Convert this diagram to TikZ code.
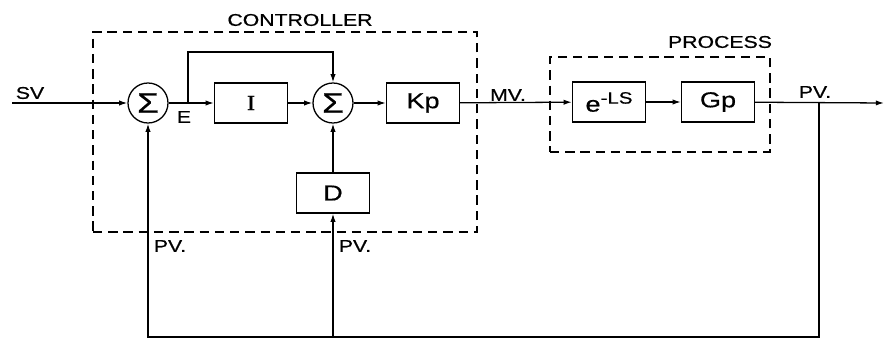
\documentclass[tikz,border=0pt]{standalone}
\usepackage{fontspec}
\setmainfont{Liberation Sans}[FakeStretch=1.25,FakeBold=0.6]
\newfontfamily\barI{Liberation Serif}[FakeStretch=1.15,FakeBold=1.2]
\usepackage{tikz}
\usetikzlibrary{arrows.meta,positioning,calc}

\begin{document}
\begin{tikzpicture}[
  x=0.03cm, y=-0.03cm,
  line width=1.1pt,
  blk/.style={draw, minimum width=2.19cm, minimum height=1.2cm, inner sep=0pt, font=\fontsize{18.5}{18.5}\selectfont},
  summer/.style={draw, circle, minimum size=1.2cm, inner sep=0pt, font=\fontsize{24}{24}\selectfont},
  frame/.style={draw, dash pattern=on 8pt off 5pt, line width=1pt, inner sep=0pt},
  lbl/.style={font=\fontsize{14.5}{14.5}\selectfont, inner sep=0pt},
  arr/.style={-{Latex[length=7pt,width=4.5pt]}}
]
\useasboundingbox (0,0) rectangle (885,340);
% dashed groups
\node[frame, minimum width=11.52cm, minimum height=6cm] (ctrl) at (285,132) {};
\node[frame, minimum width=6.6cm, minimum height=2.85cm] (proc) at (660,104.5) {};
\node[lbl] (ctrltitle) at (300,20) {CONTROLLER};
\node[lbl] (proctitle) at (720,42) {PROCESS};
% controller
\node[summer] (sum1) at (148,103) {Σ};
\node[blk] (I) at (251,103) {\barI I};
\node[summer] (sum2) at (333,103) {Σ};
\node[blk] (Kp) at (423,103) {Kp};
\node[blk] (D) at (333,193) {D};
% process
\node[blk] (els) at (609,102) {e\raisebox{0.7ex}{\fontsize{14}{14}\selectfont -LS}};
\node[blk] (Gp) at (718,102) {Gp};
% signal labels
\node[lbl] (sv) at (30,93) {SV};
\node[lbl] (err) at (184,117) {E};
\node[lbl] (mv) at (508,95) {MV.};
\node[lbl] (pvout) at (815,92) {PV.};
\node[lbl] (pvleft) at (170,246) {PV.};
\node[lbl] (pvright) at (355,246) {PV.};
% junctions
\coordinate (in) at (12,103);
\coordinate (out) at (884,103);
\coordinate (br1) at (188,103);
\coordinate (top) at (188,52);
\coordinate (br2) at (819,103);
\coordinate (bot) at (819,337);
% connectors
\draw[arr] (in) -- (sum1);
\draw[arr] (sum1) -- (I);
\draw[arr] (br1) -- (top) -| (sum2.north);
\draw[arr] (I) -- (sum2);
\draw[arr] (D) -- (sum2);
\draw[arr] (sum2) -- (Kp);
\draw[arr] (Kp) -- (els);
\draw[arr] (els) -- (Gp);
\draw[arr] (Gp) -- (out);
\draw[arr] (br2) -- (bot) -| (sum1.south);
\draw[arr] (D.south |- bot) -- (D.south);
\end{tikzpicture}
\end{document}
